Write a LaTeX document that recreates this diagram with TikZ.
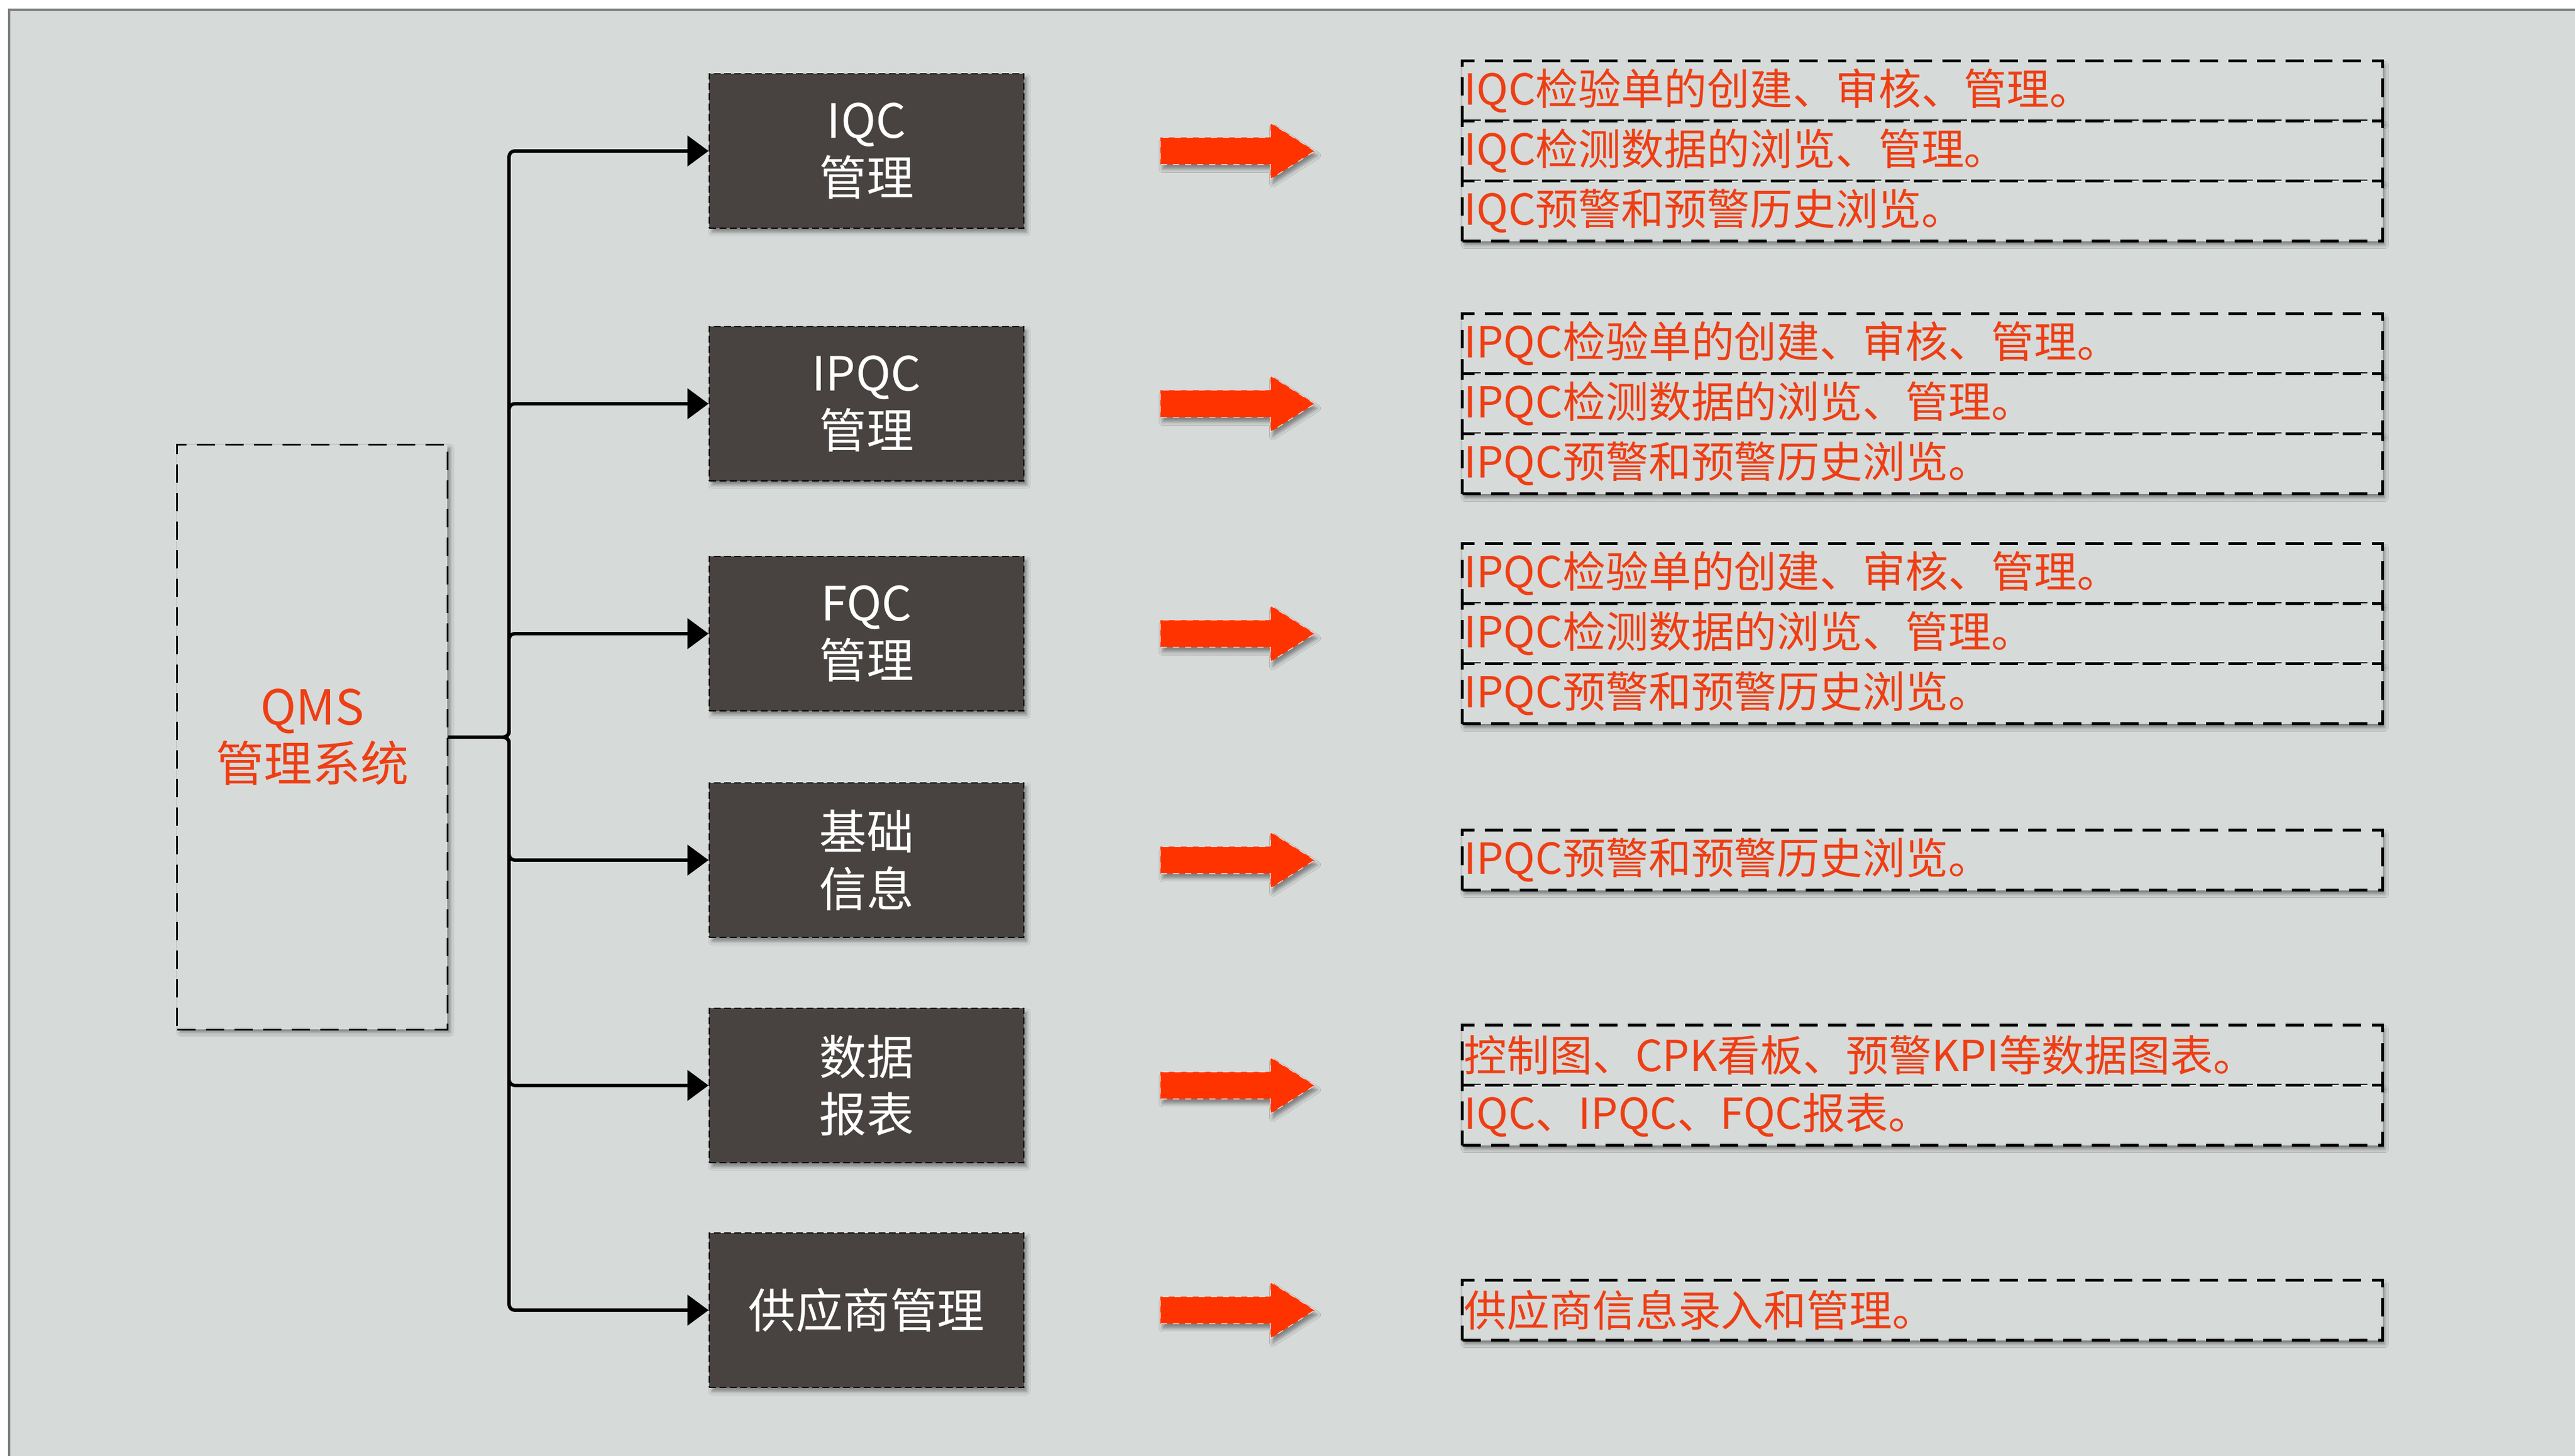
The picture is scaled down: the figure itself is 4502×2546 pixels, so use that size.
\documentclass[tikz,border=0pt]{standalone}
\usepackage{fontspec}
\setmainfont{Noto Sans CJK SC}
\usepackage{tikz}
\usetikzlibrary{shapes,arrows.meta,shadows.blur}
\definecolor{bg}{RGB}{214,218,217}
\definecolor{boxgray}{RGB}{72,67,64}
\definecolor{qred}{RGB}{238,62,20}
\definecolor{arrred}{RGB}{255,51,0}

\tikzset{
  modbox/.style={draw=black, fill=boxgray, dash pattern=on 0.12cm off 0.06cm, line width=0.6pt,
    text=white, minimum width=5.5cm, minimum height=2.7cm, align=center, inner sep=0pt,
    font=\fontsize{23.5}{28.5}\selectfont,
    blur shadow={shadow xshift=0.05cm, shadow yshift=-0.07cm, shadow blur radius=0.06cm}},
  item/.style={draw=black, fill=bg, dash pattern=on 0.32cm off 0.18cm, line width=1.4pt,
    text=qred, minimum height=1.05cm, text width=16.02cm, inner xsep=0.03cm, inner ysep=0pt,
    align=left, font=\fontsize{21.3}{24}\selectfont,
    blur shadow={shadow xshift=0.04cm, shadow yshift=-0.07cm, shadow blur radius=0.06cm}},
  bigarrow/.style={single arrow, fill=arrred, draw=white!80!arrred, dashed, thin,
    minimum height=2.7cm, inner xsep=0pt, inner ysep=0.23cm, single arrow head extend=0.255cm,
    single arrow tip angle=65,
    blur shadow={shadow xshift=0.04cm, shadow yshift=-0.08cm, shadow blur radius=0.06cm}},
  link/.style={line width=1.7pt, rounded corners=0.1cm, -{Triangle[length=0.37cm,width=0.53cm]}}
}

\begin{document}
\begin{tikzpicture}[x=0.01cm,y=-0.01cm]
\useasboundingbox (0,0) rectangle (4502,2546);
\fill[bg] (16,17) rectangle (4502,2546);
\draw[gray,line width=1pt] (16,2546) -- (16,17) -- (4502,17);

% left side
\node[draw=black, fill=bg, dash pattern=on 0.32cm off 0.18cm, line width=0.9pt,
  minimum width=4.72cm, minimum height=10.22cm, text=qred, align=center,
  font=\fontsize{24}{28}\selectfont,
  blur shadow={shadow xshift=0.05cm, shadow yshift=-0.05cm, shadow blur radius=0.06cm}]
  (qms) at (546,1289) {QMS\\管理系统};
\coordinate (hub) at (890,1289);

\node[modbox] (m1) at (1515,264) {IQC\\管理};
\node[modbox] (m2) at (1515,706) {IPQC\\管理};
\node[modbox] (m3) at (1515,1108) {FQC\\管理};
\node[modbox] (m4) at (1515,1504) {基础\\信息};
\node[modbox] (m5) at (1515,1898) {数据\\报表};
\node[modbox] (m6) at (1515,2291) {供应商管理};

\draw[link] (qms.east) -- (hub) |- (m1.west);
\draw[link] (qms.east) -- (hub) |- (m2.west);
\draw[link] (qms.east) -- (hub) |- (m3.west);
\draw[link] (qms.east) -- (hub) |- (m4.west);
\draw[link] (qms.east) -- (hub) |- (m5.west);
\draw[link] (qms.east) -- (hub) |- (m6.west);

% red arrows
\node[bigarrow] (a1) at (2145,264) {};
\node[bigarrow] (a2) at (2145,706) {};
\node[bigarrow] (a3) at (2145,1108) {};
\node[bigarrow] (a4) at (2145,1504) {};
\node[bigarrow] (a5) at (2145,1898) {};
\node[bigarrow] (a6) at (2145,2291) {};

% right side
\node[item] (r11) at (3361,159) {IQC检验单的创建、审核、管理。};
\node[item] (r12) at (3361,264) {IQC检测数据的浏览、管理。};
\node[item] (r13) at (3361,369) {IQC预警和预警历史浏览。};

\node[item] (r21) at (3361,601) {IPQC检验单的创建、审核、管理。};
\node[item] (r22) at (3361,706) {IPQC检测数据的浏览、管理。};
\node[item] (r23) at (3361,811) {IPQC预警和预警历史浏览。};

\node[item] (r31) at (3361,1003) {IPQC检验单的创建、审核、管理。};
\node[item] (r32) at (3361,1108) {IPQC检测数据的浏览、管理。};
\node[item] (r33) at (3361,1213) {IPQC预警和预警历史浏览。};

\node[item] (r41) at (3361,1504) {IPQC预警和预警历史浏览。};

\node[item] (r51) at (3361,1845) {控制图、CPK看板、预警KPI等数据图表。};
\node[item] (r52) at (3361,1950) {IQC、IPQC、FQC报表。};

\node[item] (r61) at (3361,2291) {供应商信息录入和管理。};
\end{tikzpicture}
\end{document}
